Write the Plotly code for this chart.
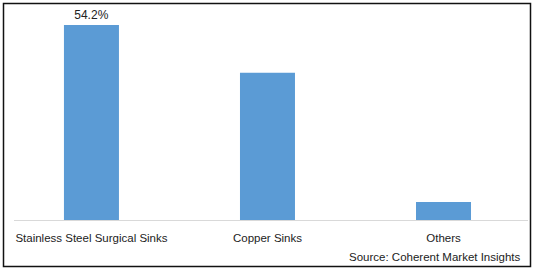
import plotly.graph_objects as go

categories = ["Stainless Steel Surgical Sinks", "Copper Sinks", "Others"]
values = [54.2, 40.9, 5.0]
data_labels = ["54.2%", "", ""]
source_text = "Source: Coherent Market Insights"

W, H = 538, 272
L, R, T, B = 14, 10, 10, 52
pw, ph = W - L - R, H - T - B

def px_x(p):
    return (p - L) / pw

def px_y(p):
    return (H - B - p) / ph

fig = go.Figure(go.Bar(
    x=categories, y=values, width=0.3125,
    marker=dict(color="#5B9BD5", line=dict(width=0)),
    text=data_labels, textposition="outside", cliponaxis=False,
    textfont=dict(family="Liberation Sans", size=12, color="#222"),
    hoverinfo="skip",
))

fig.update_layout(
    width=W, height=H, margin=dict(l=L, r=R, t=T, b=B),
    paper_bgcolor="white", plot_bgcolor="white", showlegend=False,
    xaxis=dict(range=[-0.44, 2.48], showline=True, linecolor="#d9d9d9", linewidth=1,
               ticks="outside", ticklen=7, tickcolor="rgba(0,0,0,0)", showgrid=False,
               tickfont=dict(family="Liberation Sans", size=11.5, color="#222")),
    yaxis=dict(range=[0, 54.2 * ph / 195], visible=False, showgrid=False, zeroline=False),
    shapes=[dict(type="rect", xref="paper", yref="paper",
                 x0=px_x(3.5), x1=px_x(530.5), y0=px_y(266.5), y1=px_y(3.5),
                 line=dict(color="#111", width=1.5), fillcolor="rgba(0,0,0,0)")],
    annotations=[dict(text=source_text, xref="paper", yref="paper",
                      x=px_x(523), y=px_y(257), xanchor="right", yanchor="middle",
                      showarrow=False,
                      font=dict(family="Liberation Sans", size=11.5, color="#222"))],
)

fig.write_html("out.html")
